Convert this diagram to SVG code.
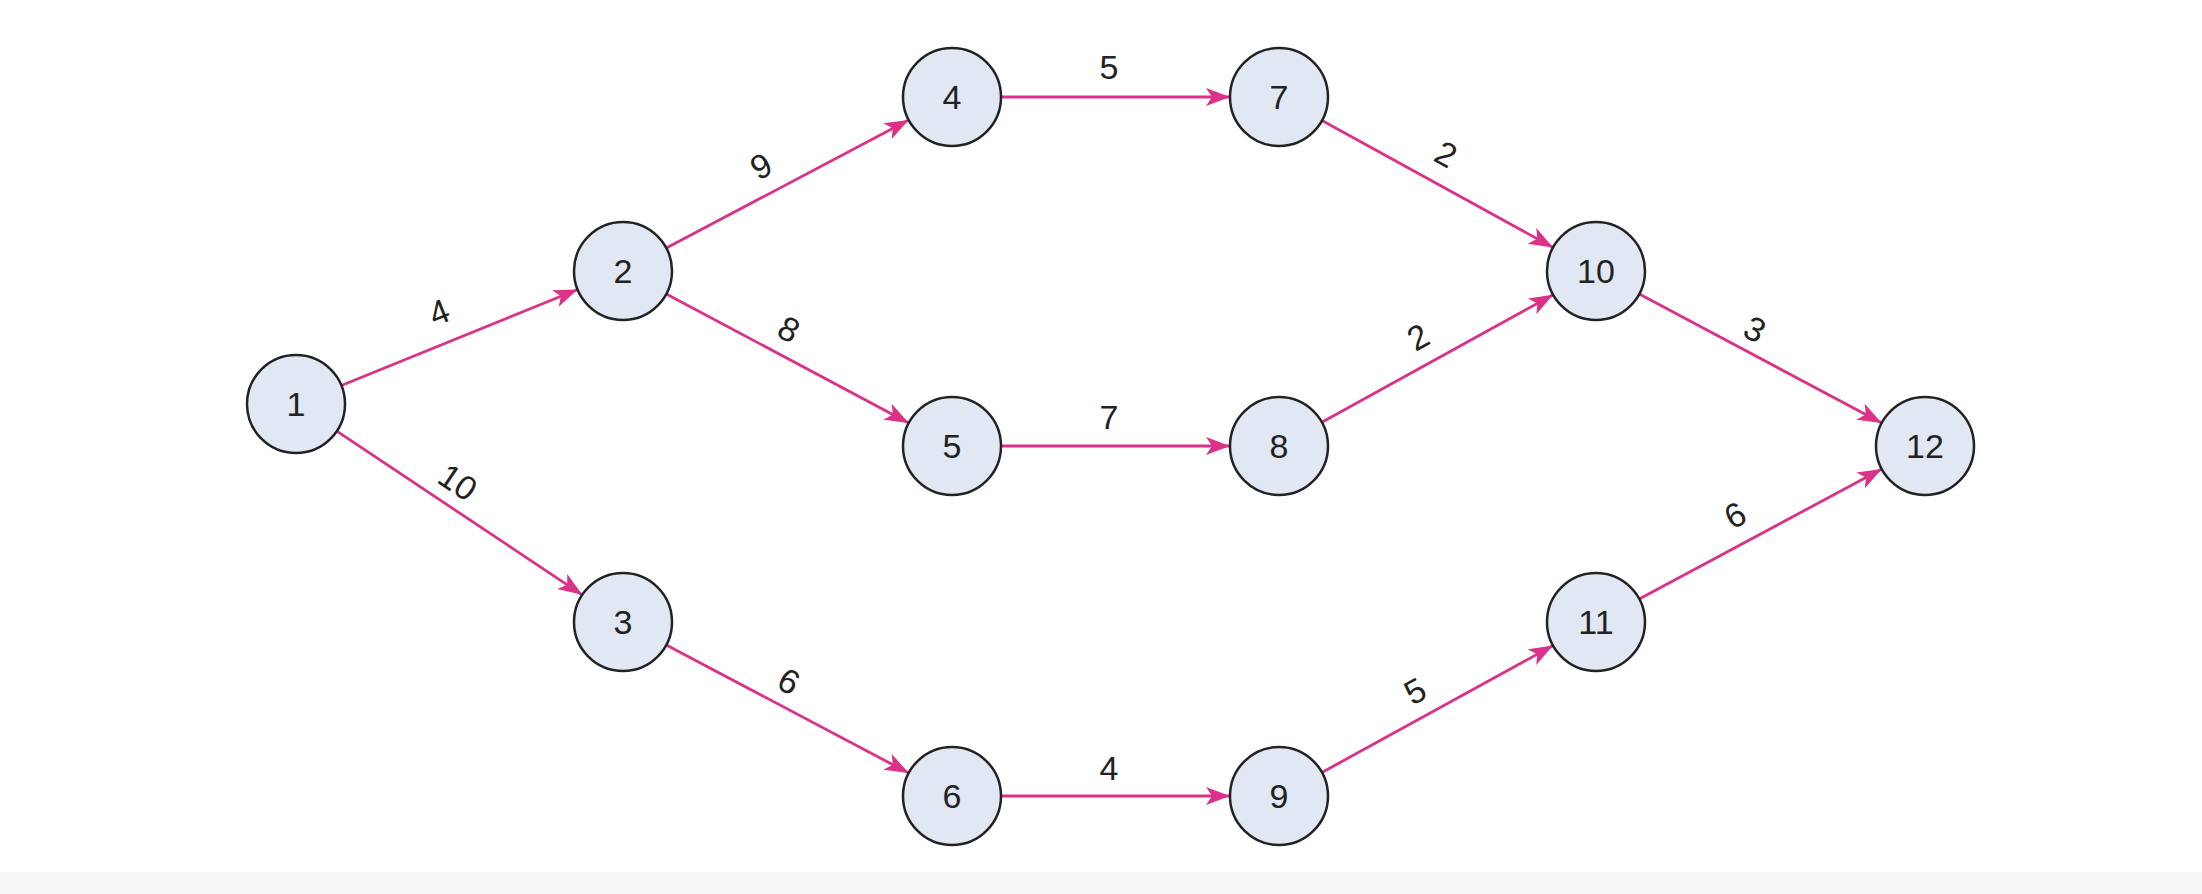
<svg xmlns="http://www.w3.org/2000/svg" width="2202" height="894" viewBox="0 0 2202 894">
<style>
.n circle{fill:#e1e7f3;stroke:#222;stroke-width:2.5}
.n text,.l{font-family:"Liberation Sans",Arial,sans-serif;font-size:34px;fill:#222;text-anchor:middle;dominant-baseline:central}
.e line{stroke:#db3189;stroke-width:2.8}
</style>
<defs><marker id="a" markerUnits="userSpaceOnUse" markerWidth="26" markerHeight="20" refX="24" refY="9" orient="auto"><path d="M0,0 L24,9 L0,18 L6,9 Z" fill="#db3189"/></marker></defs>
<rect width="2202" height="894" fill="#fff"/>
<rect y="872" width="2202" height="22" fill="#f6f6f7"/>
<g class="e" marker-end="url(#a)">
<line x1="341.4" y1="385.5" x2="577.6" y2="289.5" marker-end="url(#a)"/>
<line x1="666.3" y1="248.1" x2="908.7" y2="119.9" marker-end="url(#a)"/>
<line x1="666.3" y1="294" x2="908.7" y2="423" marker-end="url(#a)"/>
<line x1="336.8" y1="431.2" x2="582.2" y2="594.8" marker-end="url(#a)"/>
<line x1="666.3" y1="644.9" x2="908.7" y2="773.1" marker-end="url(#a)"/>
<line x1="1001" y1="97" x2="1230" y2="97" marker-end="url(#a)"/>
<line x1="1001" y1="446" x2="1230" y2="446" marker-end="url(#a)"/>
<line x1="1001" y1="796" x2="1230" y2="796" marker-end="url(#a)"/>
<line x1="1322" y1="120.6" x2="1553" y2="247.4" marker-end="url(#a)"/>
<line x1="1321.9" y1="422.3" x2="1553.1" y2="294.7" marker-end="url(#a)"/>
<line x1="1639.3" y1="294" x2="1881.7" y2="423" marker-end="url(#a)"/>
<line x1="1322" y1="772.4" x2="1553" y2="645.6" marker-end="url(#a)"/>
<line x1="1639.2" y1="598.9" x2="1881.8" y2="469.1" marker-end="url(#a)"/>
<text class="l" transform="translate(439,312) rotate(-22)">4</text>
<text class="l" transform="translate(761,166) rotate(-28)">9</text>
<text class="l" transform="translate(789,329) rotate(28)">8</text>
<text class="l" transform="translate(458,482) rotate(34)">10</text>
<text class="l" x="1109" y="67">5</text>
<text class="l" x="1109" y="417">7</text>
<text class="l" x="1109" y="768">4</text>
<text class="l" transform="translate(789,681) rotate(28)">6</text>
<text class="l" transform="translate(1446,154) rotate(29)">2</text>
<text class="l" transform="translate(1418,337) rotate(-29)">2</text>
<text class="l" transform="translate(1755,329) rotate(28)">3</text>
<text class="l" transform="translate(1415,691) rotate(-29)">5</text>
<text class="l" transform="translate(1735,515) rotate(-28)">6</text>
</g>
<g id="n1" class="n"><circle cx="296" cy="404" r="49"/><text x="296" y="404">1</text></g>
<g id="n2" class="n"><circle cx="623" cy="271" r="49"/><text x="623" y="271">2</text></g>
<g id="n3" class="n"><circle cx="623" cy="622" r="49"/><text x="623" y="622">3</text></g>
<g id="n4" class="n"><circle cx="952" cy="97" r="49"/><text x="952" y="97">4</text></g>
<g id="n5" class="n"><circle cx="952" cy="446" r="49"/><text x="952" y="446">5</text></g>
<g id="n6" class="n"><circle cx="952" cy="796" r="49"/><text x="952" y="796">6</text></g>
<g id="n7" class="n"><circle cx="1279" cy="97" r="49"/><text x="1279" y="97">7</text></g>
<g id="n8" class="n"><circle cx="1279" cy="446" r="49"/><text x="1279" y="446">8</text></g>
<g id="n9" class="n"><circle cx="1279" cy="796" r="49"/><text x="1279" y="796">9</text></g>
<g id="n10" class="n"><circle cx="1596" cy="271" r="49"/><text x="1596" y="271">10</text></g>
<g id="n11" class="n"><circle cx="1596" cy="622" r="49"/><text x="1596" y="622">11</text></g>
<g id="n12" class="n"><circle cx="1925" cy="446" r="49"/><text x="1925" y="446">12</text></g>
</svg>
